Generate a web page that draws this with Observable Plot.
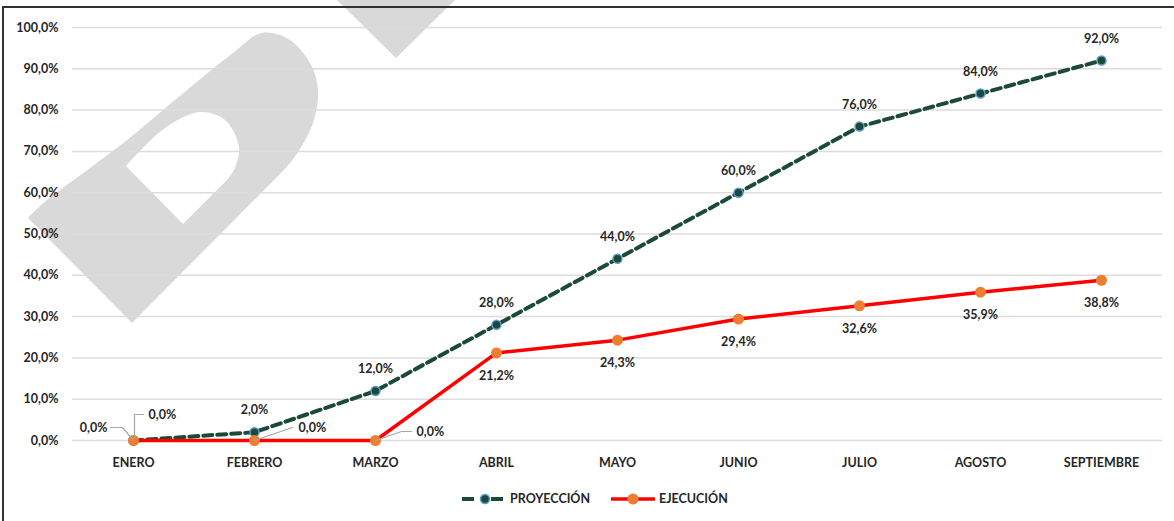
<!DOCTYPE html>
<html><head><meta charset="utf-8">
<script src="https://cdn.jsdelivr.net/npm/d3@7"></script>
<script src="https://cdn.jsdelivr.net/npm/@observablehq/plot@0.6"></script>
<style>
body{margin:0;background:#fff;font-family:Lato,"Open Sans",sans-serif;}
#wrap{position:relative;width:1174px;height:521px;overflow:hidden;background:#fff;}
#bg{position:absolute;left:0;top:0;}
#chart{position:absolute;left:0;top:0;}
#legend{position:absolute;left:0;top:486px;}
</style></head><body>
<div id="wrap"><svg id="bg" width="1174" height="521"></svg><div id="chart"></div><svg id="legend" width="1174" height="28"></svg></div>
<script>
const months = ["ENERO","FEBRERO","MARZO","ABRIL","MAYO","JUNIO","JULIO","AGOSTO","SEPTIEMBRE"];
const proyeccion = [0, 2, 12, 28, 44, 60, 76, 84, 92];
const ejecucion = [0, 0, 0, 21.2, 24.3, 29.4, 32.6, 35.9, 38.8];
const yTicks = [0, 10, 20, 30, 40, 50, 60, 70, 80, 90, 100];
const seriesNames = ["PROYECCIÓN", "EJECUCIÓN"];

const GREEN = "#1c4a38", RED = "#ff0000", ORANGE = "#ed7d31", RING = "#5b9bd5", LEAD = "#a6a6a6", TXT = "#262626";
const fmt = v => v.toFixed(1).replace(".", ",") + "%";

// background: watermark + frame
const bg = d3.select("#bg");
const curve = d3.line().curve(d3.curveCatmullRom.alpha(0.5));
const outer = "M132,323 L28,218 " + curve([[28,218],[47,200],[90,168],[127,140],[187,90],[233,53],[262,33],[290,40],[311,65],[318,90],[313,123],[294,158],[273,181]]).replace(/^M[^L C]*/, "L28,218") + " Z";
const inner = "M183,224 L126,166 " + curve([[126,166],[165,128],[200,112],[225,120],[239,147],[234,170],[227,180]]).replace(/^M[^L C]*/, "") + " Z";
bg.append("path").attr("d", outer + " " + inner).attr("fill", "#d9d9d9").attr("fill-rule", "evenodd");
bg.append("path").attr("d", "M337,0 L396,58 L455,0 Z").attr("fill", "#d9d9d9");
bg.append("line").attr("x1", 2).attr("x2", 1174).attr("y1", 7).attr("y2", 7).attr("stroke", "#333").attr("stroke-width", 2);
bg.append("line").attr("x1", 3).attr("x2", 3).attr("y1", 6).attr("y2", 521).attr("stroke", "#333").attr("stroke-width", 2);

const proy = months.map((m, i) => ({mes: m, v: proyeccion[i], i}));
const ejec = months.map((m, i) => ({mes: m, v: ejecucion[i], i}));

const seg = {draw(ctx, l) { ctx.moveTo(0, 0); ctx.lineTo(0, -l); }};
function leader(data, dx, dy, ddx, ddy) {
  const len = Math.hypot(ddx, ddy), rot = Math.atan2(ddx, -ddy) * 180 / Math.PI;
  return Plot.vector(data, {x: "mes", y: "v", dx, dy, length: len, rotate: rot, anchor: "start", shape: seg, stroke: LEAD, strokeWidth: 1.2});
}
const lab = (data, o) => Plot.text(data, {x: "mes", y: "v", text: d => fmt(d.v), fill: TXT, ...o});

const pFirst = proy.filter(d => d.i === 0);
const eFirst = ejec.filter(d => d.i === 0);
const eFeb = ejec.filter(d => d.i === 1);
const eMar = ejec.filter(d => d.i === 2);

const chart = Plot.plot({
  width: 1174, height: 480,
  marginLeft: 72, marginRight: 12, marginTop: 27, marginBottom: 40,
  style: {background: "transparent", fontFamily: "Lato, 'Open Sans', sans-serif", fontSize: "12.5px", fontWeight: 700, color: TXT},
  x: {type: "point", domain: months, padding: 0.5, label: null, tickSize: 0, tickPadding: 18},
  y: {domain: [0, 100], ticks: yTicks, tickFormat: fmt, label: null, tickSize: 0, tickPadding: 14},
  marks: [
    Plot.gridY(yTicks, {stroke: "#dcdcdc", strokeOpacity: 1, strokeWidth: 1.5}),
    Plot.line(proy, {x: "mes", y: "v", stroke: GREEN, strokeWidth: 4, strokeDasharray: "9,5"}),
    Plot.dot(proy, {x: "mes", y: "v", r: 4.5, fill: GREEN, stroke: RING, strokeWidth: 1.5}),
    Plot.line(ejec, {x: "mes", y: "v", stroke: RED, strokeWidth: 3.5}),
    Plot.dot(ejec, {x: "mes", y: "v", r: 5.5, fill: ORANGE}),
    // leader lines
    leader(pFirst, 0, 0, -11, -13),
    leader(pFirst, -11, -13, -12, 0),
    leader(eFirst, 1, -3, 0, -23),
    leader(eFirst, 1, -26, 9, 0),
    leader(eFeb, 0, 0, 38, -13),
    leader(eMar, 0, 0, 26, -9),
    leader(eMar, 26, -9, 10, 0),
    // labels
    lab(proy.filter(d => d.i > 0), {dy: -22}),
    lab(pFirst, {dx: -26, dy: -13, textAnchor: "end"}),
    lab(ejec.filter(d => d.i > 2), {dy: 23}),
    lab(eFirst, {dx: 15, dy: -26, textAnchor: "start"}),
    lab(eFeb, {dx: 44, dy: -13, textAnchor: "start"}),
    lab(eMar, {dx: 41, dy: -9, textAnchor: "start"})
  ]
});
document.getElementById("chart").append(chart);

// legend
const lg = d3.select("#legend").style("font-family", "Lato, 'Open Sans', sans-serif").style("font-size", "12.5px").style("font-weight", 700);
const cy = 13;
lg.append("line").attr("x1", 462).attr("x2", 474).attr("y1", cy).attr("y2", cy).attr("stroke", GREEN).attr("stroke-width", 4);
lg.append("line").attr("x1", 491).attr("x2", 503).attr("y1", cy).attr("y2", cy).attr("stroke", GREEN).attr("stroke-width", 4);
lg.append("circle").attr("cx", 485).attr("cy", cy).attr("r", 4.5).attr("fill", GREEN).attr("stroke", RING).attr("stroke-width", 1.5);
lg.append("text").attr("x", 510).attr("y", cy).attr("dy", "0.35em").attr("fill", TXT).text(seriesNames[0]);
lg.append("line").attr("x1", 611).attr("x2", 655).attr("y1", cy).attr("y2", cy).attr("stroke", RED).attr("stroke-width", 3.5);
lg.append("circle").attr("cx", 633).attr("cy", cy).attr("r", 5.5).attr("fill", ORANGE);
lg.append("text").attr("x", 659).attr("y", cy).attr("dy", "0.35em").attr("fill", TXT).text(seriesNames[1]);
</script>
</body></html>
